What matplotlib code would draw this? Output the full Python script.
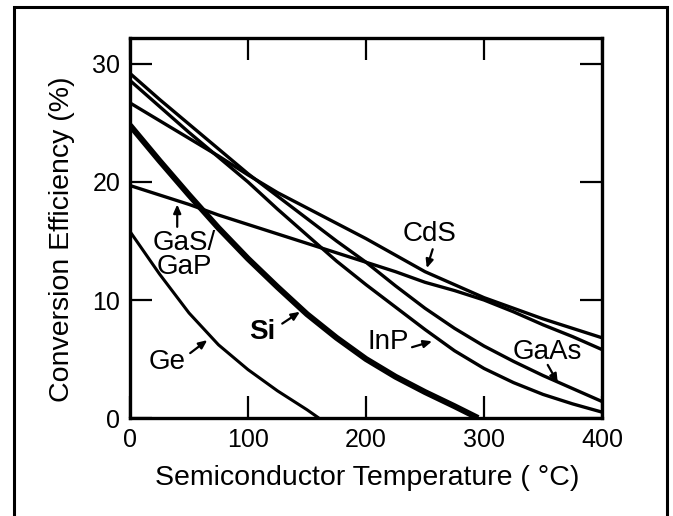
import matplotlib
matplotlib.use('Agg')
from matplotlib import pyplot as plt
from matplotlib.lines import Line2D

plt.rcParams['font.family'] = ['Liberation Sans', 'DejaVu Sans']

# temperatures (deg C) and efficiencies (%)
temp = [0, 25, 50, 75, 100, 125, 150, 175, 200, 225, 250, 275, 300, 325, 350, 375, 400]
cds = [26.7, 25.2, 23.7, 22.2, 20.6, 19.1, 17.8, 16.5, 15.2, 13.8, 12.4, 11.3, 10.2, 9.3, 8.4, 7.6, 6.8]
gas = [19.7, 18.9, 18.1, 17.2, 16.4, 15.6, 14.8, 14.0, 13.2, 12.4, 11.5, 10.8, 10.0, 9.0, 7.9, 6.9, 5.8]
gaas = [29.2, 27.0, 24.9, 22.8, 20.7, 18.8, 16.9, 15.0, 13.2, 11.2, 9.3, 7.6, 6.1, 4.8, 3.6, 2.5, 1.4]
inp = [28.6, 26.4, 24.2, 22.1, 20.0, 17.7, 15.5, 13.3, 11.3, 9.4, 7.5, 5.7, 4.2, 3.0, 2.0, 1.2, 0.5]

si_temp = [0, 25, 50, 75, 100, 125, 150, 175, 200, 225, 250, 275, 295]
si = [24.8, 21.8, 18.9, 16.1, 13.5, 11.1, 8.8, 6.8, 5.0, 3.5, 2.2, 1.0, 0.0]

ge_temp = [0, 25, 50, 75, 100, 125, 150, 160]
ge = [15.8, 12.2, 8.9, 6.2, 4.1, 2.3, 0.7, 0.0]

# label text, text position, arrow tail, arrow head, bold
labels = [
    ('CdS', (254, 15.6), (256.5, 14.3), (251.5, 12.7), False),
    ('InP', (219, 6.45), (239, 6.0), (256, 6.5), False),
    ('GaAs', (354, 5.6), (354, 4.5), (362.5, 3.0), False),
    ('Si', (112, 7.3), (129, 8.0), (144, 9.0), True),
    ('Ge', (31.5, 4.75), (51, 5.5), (65.5, 6.6), False),
    ('GaS/\nGaP', (46, 13.8), (40, 16.2), (40, 18.1), False),
]

fig = plt.figure(figsize=(6.73, 5.16), dpi=100)
ax = fig.add_axes([0.1932, 0.1899, 0.7013, 0.7364])

lw = 2.4
ax.plot(temp, cds, color='black', lw=lw, solid_capstyle='butt')
ax.plot(temp, gas, color='black', lw=lw, solid_capstyle='butt')
ax.plot(temp, gaas, color='black', lw=lw, solid_capstyle='butt')
ax.plot(temp, inp, color='black', lw=lw, solid_capstyle='butt')
ax.plot(si_temp, si, color='black', lw=4.3, solid_capstyle='butt')
ax.plot(ge_temp, ge, color='black', lw=2.2, solid_capstyle='butt')

for txt, pos, tail, head, bold in labels:
    ax.text(pos[0], pos[1], txt, fontsize=20, ha='center', va='center',
            fontweight='bold' if bold else 'normal', linespacing=0.9)
    ax.annotate('', xy=head, xytext=tail,
                arrowprops=dict(arrowstyle='-|>,head_length=0.5,head_width=0.22',
                                color='black', lw=1.6, shrinkA=0, shrinkB=0))

ax.set_xlim(0, 400)
ax.set_ylim(0, 32.2)
ax.set_xticks([0, 100, 200, 300, 400])
ax.set_yticks([0, 10, 20, 30])
ax.tick_params(direction='in', length=15.5, width=1.6, labelsize=18, pad=7,
               top=True, right=True)
for sp in ax.spines.values():
    sp.set_linewidth(2.4)

ax.set_xlabel('Semiconductor Temperature ( °C)', fontsize=20.5)
ax.set_ylabel('Conversion Efficiency (%)', fontsize=20.5)
ax.xaxis.set_label_coords(0.502, -0.124)
ax.yaxis.set_label_coords(-0.116, 0.47)

# outer box: left, top and right sides only, running off the bottom edge
x0, x1, ytop = 13.5 / 673, 666.5 / 673, 1 - 6.5 / 516
fig.lines.append(Line2D([x0, x0, x1, x1], [0, ytop, ytop, 0], transform=fig.transFigure,
                        color='black', lw=2.2, solid_joinstyle='miter'))

fig.savefig('out.png', dpi=100)
